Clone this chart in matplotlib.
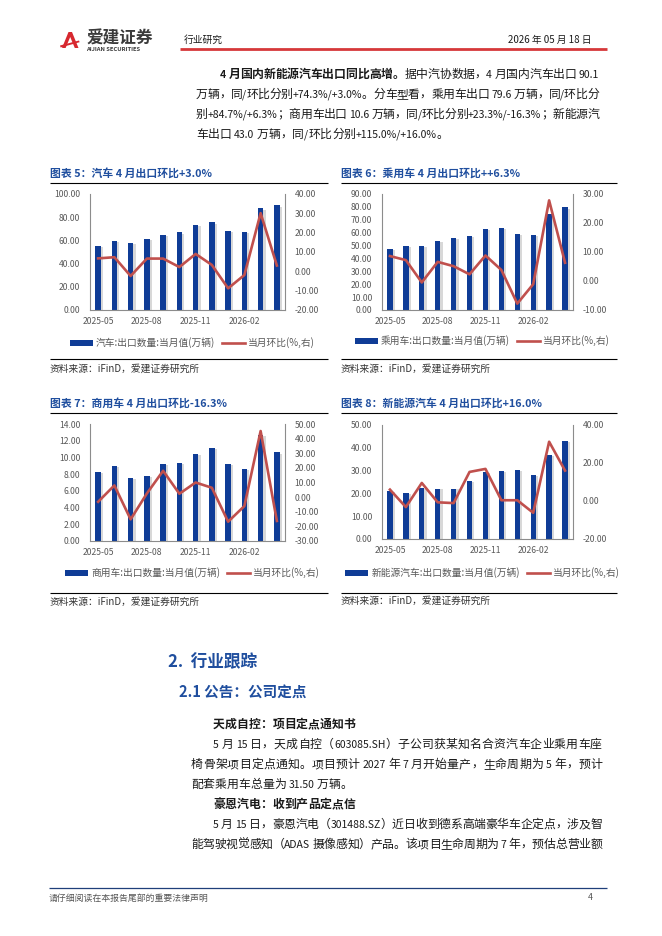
import numpy as np
import matplotlib
matplotlib.use("Agg")
import matplotlib.pyplot as plt
from matplotlib.patches import Polygon, Patch
from matplotlib.lines import Line2D
from matplotlib.ticker import FormatStrFormatter

plt.rcParams['font.family'] = ['Noto Sans CJK SC', 'DejaVu Sans']

W, H = 662, 936
BLUE = "#0f3c96"
RED = "#c0504d"
TITLE_BLUE = "#1f4e9e"
GRAY = "#595959"
BODY = 8.55
LATIN = BODY * 0.88   # latin runs look smaller/narrower in the original

# data (2025-05 .. 2026-04)
months = ["2025-05", "2025-06", "2025-07", "2025-08", "2025-09", "2025-10",
          "2025-11", "2025-12", "2026-01", "2026-02", "2026-03", "2026-04"]
tick_labels = ["2025-05", "2025-08", "2025-11", "2026-02"]

car_export = [55.0, 59.7, 57.6, 61.4, 64.8, 66.9, 73.2, 75.5, 68.3, 67.4, 87.9, 90.1]
car_mom = [6.7, 7.3, -2.4, 6.6, 6.6, 2.2, 9.0, 3.3, -8.8, -1.9, 30.1, 3.0]
pv_export = [47.1, 50.0, 49.7, 53.3, 55.9, 57.2, 62.7, 64.0, 58.8, 58.3, 74.7, 79.6]
pv_mom = [8.6, 7.2, -0.5, 6.6, 5.1, 2.3, 8.8, 3.8, -7.8, -1.1, 27.8, 6.3]
cv_export = [8.23, 8.95, 7.52, 7.76, 9.27, 9.39, 10.42, 11.18, 9.27, 8.67, 12.73, 10.6]
cv_mom = [-3.2, 8.0, -15.2, 2.5, 18.0, 2.3, 10.0, 6.4, -16.8, -6.1, 45.2, -16.3]
nev_export = [21.0, 20.1, 22.3, 22.1, 22.1, 25.4, 29.6, 29.8, 30.1, 27.9, 36.8, 43.0]
nev_mom = [6.0, -3.2, 9.5, -0.7, -1.1, 15.3, 16.9, 0.4, 0.4, -6.2, 31.2, 16.0]

fig = plt.figure(figsize=(W / 100, H / 100), dpi=100)
renderer = fig.canvas.get_renderer()

# page layer in pixel coordinates
page = fig.add_axes([0, 0, 1, 1])
page.set_xlim(0, W)
page.set_ylim(H, 0)
page.axis("off")


def T(x, y, s, size=BODY, color="#1a1a1a", weight="normal", ha="left", va="center"):
    return page.text(x, y, s, fontsize=size, color=color, fontweight=weight, ha=ha, va=va)


def hline(x0, x1, y, color="black", lw=0.8):
    page.plot([x0, x1], [y, y], color=color, lw=lw, solid_capstyle="butt")


_wcache = {}


def raw_width(s, weight, size):
    key = (s, weight, size)
    if key not in _wcache:
        t = page.text(0, 0, s, fontsize=size, fontweight=weight)
        _wcache[key] = t.get_window_extent(renderer).width
        t.remove()
    return _wcache[key]


def advance(s, weight, size):
    # advance width, side bearings included
    return raw_width("中" + s + "中", weight, size) - raw_width("中中", weight, size)


def tokens(s, weight):
    out, run = [], ""
    for ch in s:
        if ch.isascii():
            run += ch
            continue
        if run:
            out.append((run, weight, LATIN))
            run = ""
        out.append((ch, weight, BODY))
    if run:
        out.append((run, weight, LATIN))
    return out


def line(x0, y, parts, x1=None):
    # CJK one glyph per token, latin runs kept whole; spread over x0..x1 when given
    toks = []
    for s, wgt in parts:
        toks += tokens(s, wgt)
    widths = [advance(s, w, z) for s, w, z in toks]
    extra = 0 if x1 is None else (x1 - x0 - sum(widths)) / (len(toks) - 1)
    x = x0
    for (s, w, z), wd in zip(toks, widths):
        if s.strip():
            lead = advance(s[:len(s) - len(s.lstrip())], w, z) if s[0] == " " else 0
            page.text(x + lead, y + 4, s.strip(), fontsize=z, fontweight=w,
                      color="#1a1a1a", ha="left", va="baseline")
        x += wd + extra


# header
page.add_patch(Polygon([(62, 48), (68.5, 32), (72, 32), (78.5, 48), (74.8, 48),
                        (70.2, 37), (65.6, 48)], closed=True, color="#d7282f", lw=0))
page.add_patch(Polygon([(60, 45.5), (79, 40.5), (79.6, 42.2), (60.6, 47.5)], closed=True,
                       color="#d7282f", lw=0))
T(86, 39, "爱建证券", size=12, color="#3a3a3a", weight="bold")
T(86, 49.5, "AIJIAN SECURITIES", size=4.2, color="#3a3a3a", weight="bold")
T(184, 40, "行业研究", size=7)
T(592, 40, "2026 年 05 月 18 日", size=7, ha="right")
hline(180, 607, 48.5, color="#d6383a", lw=2)

# opening paragraph
P_RIGHT = 599
line(220, 74, [("4 月国内新能源汽车出口同比高增。", "bold"),
               ("据中汽协数据，4 月国内汽车出口 90.1", "normal")], P_RIGHT)
line(196, 94, [("万辆，同/环比分别+74.3%/+3.0%。分车型看，乘用车出口 79.6 万辆，同/环比分", "normal")], P_RIGHT)
line(196, 114, [("别+84.7%/+6.3%；商用车出口 10.6 万辆，同/环比分别+23.3%/-16.3%；新能源汽", "normal")], P_RIGHT)
line(196, 134, [("车出口 43.0 万辆，同/环比分别+115.0%/+16.0%。", "normal")])


def draw_chart(box, col, title, bars, mom, llim, lstep, rlim, rstep, bar_label, rows):
    left, top, right, bottom = box
    c0, c1 = col
    t_y, u_y, lx_y, lg_y, r_y, s_y = rows
    T(c0, t_y, title, size=7.8, color=TITLE_BLUE, weight="bold")
    hline(c0, c1, u_y, lw=0.8)
    hline(c0, c1, r_y, lw=0.8)
    T(c0, s_y, "资料来源：iFinD，爱建证券研究所", size=7, color="#333333")

    ax = fig.add_axes([left / W, 1 - bottom / H, (right - left) / W, (bottom - top) / H])
    ax.patch.set_alpha(0)
    x = np.arange(len(bars))
    # soft shadow at the right of each bar
    ax.bar(x + 0.2, np.array(bars) * 0.985, width=0.22, color="#cfcfcf", alpha=0.8, lw=0, zorder=1)
    ax.bar(x, bars, width=0.33, color=BLUE, lw=0, zorder=2)
    ax.set_xlim(-0.5, len(bars) - 0.5)
    ax.set_ylim(*llim)
    ax.set_yticks(np.arange(llim[0], llim[1] + 0.001, lstep))
    ax.yaxis.set_major_formatter(FormatStrFormatter("%.2f"))
    ax.set_xticks([months.index(m) for m in tick_labels])
    ax.set_xticklabels(tick_labels)
    ax.tick_params(axis="y", length=0, labelsize=6.2, labelcolor=GRAY, pad=7)
    ax.tick_params(axis="x", length=0, labelsize=6.2, labelcolor=GRAY, pad=5)
    ax.spines["top"].set_visible(False)
    ax.spines["right"].set_visible(False)
    for s in ("left", "bottom"):
        ax.spines[s].set_color("#8c8c8c")
        ax.spines[s].set_linewidth(0.8)

    ax2 = ax.twinx()
    ax2.plot(x, mom, color=RED, lw=1.9, solid_joinstyle="round", zorder=3)
    ax2.set_ylim(*rlim)
    ax2.set_yticks(np.arange(rlim[0], rlim[1] + 0.001, rstep))
    ax2.yaxis.set_major_formatter(FormatStrFormatter("%.2f"))
    ax2.tick_params(axis="y", length=0, labelsize=6.2, labelcolor=GRAY, pad=7)
    for s in ("top", "left", "bottom"):
        ax2.spines[s].set_visible(False)
    ax2.spines["right"].set_color("#8c8c8c")
    ax2.spines["right"].set_linewidth(0.8)

    handles = [Patch(color=BLUE, lw=0), Line2D([], [], color=RED, lw=1.9)]
    fig.legend(handles, [bar_label, "当月环比(%,右)"], loc="center",
               bbox_to_anchor=(((left + right) / 2 + 5) / W, 1 - lg_y / H),
               ncol=2, frameon=False, fontsize=7, labelcolor=GRAY,
               handlelength=2.4, handleheight=0.55, handletextpad=0.3,
               columnspacing=0.7)


draw_chart((90, 194, 285, 310), (50, 328), "图表 5：汽车 4 月出口环比+3.0%",
           car_export, car_mom, (0, 100), 20, (-20, 40), 10,
           "汽车:出口数量:当月值(万辆)", (173, 183, 323, 343, 359, 369))
draw_chart((382, 194, 573, 310), (341, 617), "图表 6：乘用车 4 月出口环比++6.3%",
           pv_export, pv_mom, (0, 90), 10, (-10, 30), 10,
           "乘用车:出口数量:当月值(万辆)", (173, 183, 323, 341, 359, 369))
draw_chart((90, 424, 285, 541), (50, 328), "图表 7：商用车 4 月出口环比-16.3%",
           cv_export, cv_mom, (0, 14), 2, (-30, 50), 10,
           "商用车:出口数量:当月值(万辆)", (403, 413, 554, 573, 593, 602))
draw_chart((382, 425, 573, 539), (341, 617), "图表 8：新能源汽车 4 月出口环比+16.0%",
           nev_export, nev_mom, (0, 50), 10, (-20, 40), 20,
           "新能源汽车:出口数量:当月值(万辆)", (403, 413, 553, 573, 593, 601))

# section 2
S_RIGHT = 602
T(168, 662, "2.  行业跟踪", size=12, color=TITLE_BLUE, weight="bold")
T(179, 693, "2.1 公告：公司定点", size=10.5, color=TITLE_BLUE, weight="bold")
line(213, 724, [("天成自控：项目定点通知书", "bold")])
line(213, 744, [("5 月 15 日，天成自控（603085.SH）子公司获某知名合资汽车企业乘用车座", "normal")], S_RIGHT)
line(191, 764, [("椅骨架项目定点通知。项目预计 2027 年 7 月开始量产，生命周期为 5 年，预计", "normal")], S_RIGHT)
line(191, 784, [("配套乘用车总量为 31.50 万辆。", "normal")])
line(213, 804, [("豪恩汽电：收到产品定点信", "bold")])
line(213, 824, [("5 月 15 日，豪恩汽电（301488.SZ）近日收到德系高端豪华车企定点，涉及智", "normal")], S_RIGHT)
line(191, 844, [("能驾驶视觉感知（ADAS 摄像感知）产品。该项目生命周期为 7 年，预估总营业额", "normal")], S_RIGHT)

# footer
hline(49, 607, 888, color="#1f3f7a", lw=0.9)
T(49, 898, "请仔细阅读在本报告尾部的重要法律声明", size=6.4, color="#555555")
T(588, 898, "4", size=6.4, color="#555555")

fig.savefig("out.png", dpi=100)
